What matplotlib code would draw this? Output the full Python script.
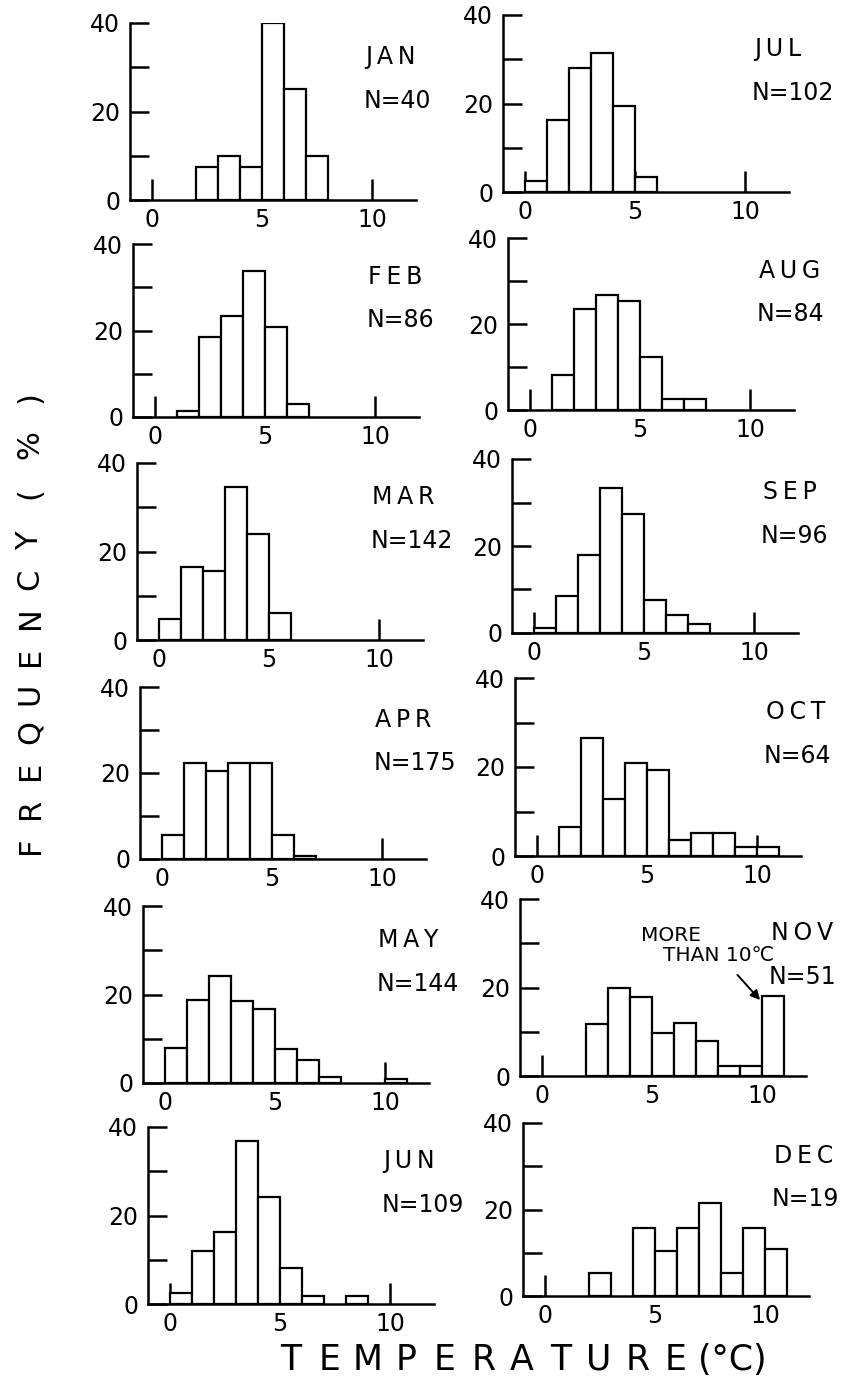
import numpy as np
import matplotlib.pyplot as plt

# monthly temperature histograms, 1 degC bins, left edges 0..10
# (for NOV the last bin means "more than 10 degC")
bin_left = np.arange(0, 11)

months = ['JAN', 'FEB', 'MAR', 'APR', 'MAY', 'JUN',
          'JUL', 'AUG', 'SEP', 'OCT', 'NOV', 'DEC']
n_obs = [40, 86, 142, 175, 144, 109, 102, 84, 96, 64, 51, 19]

# frequency (%) per bin
jan = [0, 0, 7.5, 10, 7.5, 40, 25, 10, 0, 0, 0]
feb = [0, 1.3, 18.6, 23.4, 33.8, 20.8, 3.0, 0, 0, 0, 0]
mar = [4.7, 16.4, 15.5, 34.5, 23.9, 6.0, 0, 0, 0, 0, 0]
apr = [5.5, 22.4, 20.4, 22.4, 22.4, 5.5, 0.6, 0, 0, 0, 0]
may = [7.8, 18.7, 24.1, 18.5, 16.7, 7.7, 5.3, 1.4, 0, 0, 1.0]
jun = [2.4, 12.0, 16.2, 36.9, 24.2, 8.2, 1.8, 0, 1.8, 0, 0]
jul = [2.4, 16.2, 28.1, 31.4, 19.5, 3.5, 0, 0, 0, 0, 0]
aug = [0, 8.1, 23.5, 26.7, 25.3, 12.4, 2.6, 2.6, 0, 0, 0]
sep = [1.2, 8.5, 18.0, 33.4, 27.3, 7.6, 4.2, 2.1, 0, 0, 0]
oct_ = [0, 6.5, 26.6, 12.8, 20.8, 19.3, 3.5, 5.2, 5.2, 2.0, 2.0]
nov = [0, 0, 11.8, 19.8, 17.8, 9.8, 12.0, 8.0, 2.3, 2.3, 18.0]
dec = [0, 0, 5.3, 0, 15.8, 10.5, 15.8, 21.6, 5.3, 15.8, 10.8]

freqs = [jan, feb, mar, apr, may, jun, jul, aug, sep, oct_, nov, dec]

W, H = 846, 1388
fig = plt.figure(figsize=(W / 100, H / 100), dpi=100)

# axes boxes in pixels: left edge (x=-1), top (y=40), bottom (y=0)
left_px = [130, 133, 137, 140, 143, 148, 503, 508, 512, 515, 520, 523]
top_px = [23, 244, 463, 687, 906, 1127, 15, 238, 459, 678, 899, 1123]
bot_px = [200, 417, 640, 859, 1083, 1304, 192, 410, 633, 856, 1076, 1296]
unit_px = 22  # pixels per degC

for i in range(12):
    ax = fig.add_axes([left_px[i] / W, 1 - bot_px[i] / H,
                       13 * unit_px / W, (bot_px[i] - top_px[i]) / H])
    f = np.array(freqs[i])
    keep = f > 0
    ax.bar(bin_left[keep], f[keep], width=1, align='edge',
           color='white', edgecolor='black', linewidth=1.6, zorder=3)
    ax.set_xlim(-1, 12)
    ax.set_ylim(0, 40)
    for s in ['top', 'right']:
        ax.spines[s].set_visible(False)
    for s in ['left', 'bottom']:
        ax.spines[s].set_linewidth(1.8)
    ax.set_xticks([0, 5, 10])
    ax.set_yticks([0, 10, 20, 30, 40])
    ax.set_yticklabels(['0', '', '20', '', '40'])
    ax.tick_params(axis='x', direction='in', length=15, width=1.8,
                   labelsize=17, pad=6)
    ax.tick_params(axis='y', direction='in', length=14, width=1.8,
                   labelsize=17, pad=7)

    # month name and sample size
    tx = 9.7 if i < 6 else 10.4
    ax.text(tx, 32.3, '\u2009'.join(months[i]), fontsize=17, va='center', ha='left')
    ax.text(tx - 0.1, 22.4, 'N=%d' % n_obs[i], fontsize=17, va='center', ha='left')

    if months[i] == 'NOV':
        ax.text(4.5, 31.8, 'MORE', fontsize=14.5, va='center', ha='left')
        ax.text(5.5, 27.3, 'THAN 10℃', fontsize=14.5, va='center', ha='left')
        ax.annotate('', xy=(10.0, 16.7), xytext=(8.8, 23.3),
                    arrowprops=dict(arrowstyle='-|>', lw=1.4, color='black',
                                    mutation_scale=14))

# spaced-out axis titles
ylab = list('FREQUENCY') + ['(', '%', ')']
ypos = [845, 808, 770, 732, 694, 656, 618, 579, 541, 493, 445, 397]
for ch, yp in zip(ylab, ypos):
    fig.text(30 / W, 1 - yp / H, ch, rotation=90, fontsize=22,
             ha='center', va='center')

xlab = list('TEMPERATURE') + ['(°C)']
xpos = list(np.linspace(291, 676, 11)) + [732]
for ch, xp in zip(xlab, xpos):
    fig.text(xp / W, 1 - 1360 / H, ch, fontsize=25, ha='center', va='center')

plt.savefig('out.png', dpi=100)
